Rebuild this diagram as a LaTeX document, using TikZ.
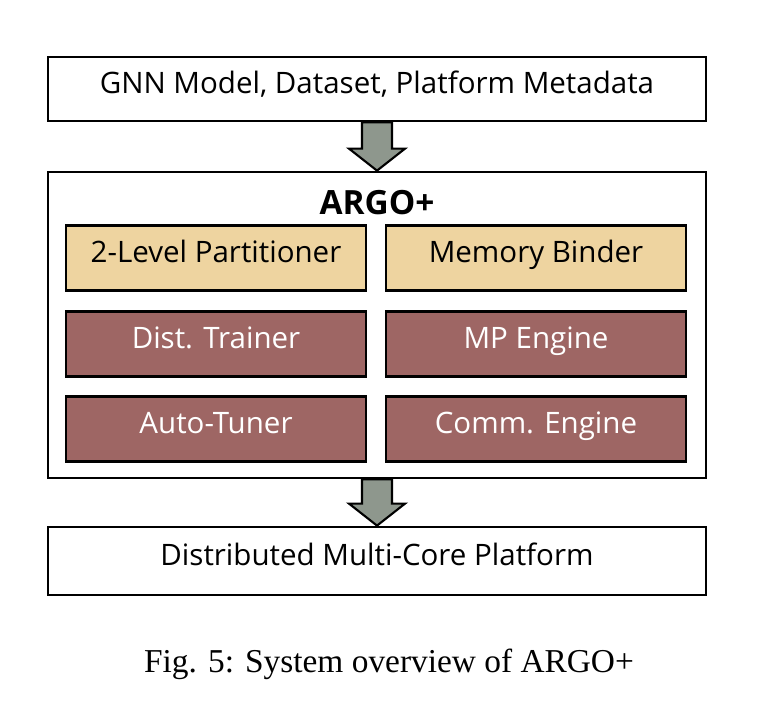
\documentclass[tikz,border=0pt]{standalone}
\usepackage{fontspec}
\setmainfont{Liberation Serif}
\newfontfamily\boxfont{Open Sans}
\usetikzlibrary{calc, positioning}
\definecolor{tanbox}{HTML}{EED4A0}
\definecolor{redbox}{HTML}{9E6664}
\definecolor{arrowgray}{HTML}{8E978D}
\tikzset{
    boxtext/.style = {font=\boxfont\fontsize{16.8}{20}\selectfont, text height=1.8ex, text depth=.8ex},
    outer/.style = {draw, line width=1.6pt, minimum width=13.16cm, fill=white},
    inner/.style = {draw, line width=1.2pt, minimum width=6cm, minimum height=1.3cm, boxtext},
    tan/.style   = {inner, fill=tanbox},
    brick/.style = {inner, fill=redbox, text=white},
    fat/.style   = {draw, line width=1.2pt, fill=arrowgray, line join=miter}
}
\begin{document}
\begin{tikzpicture}[x=0.02cm, y=-0.02cm]
    \useasboundingbox (0,0) rectangle (776,718);
    % Boxes
    \node[outer, minimum height=1.28cm, boxtext] (input) at (377,89) {GNN Model, Dataset, Platform Metadata};
    \node[outer, minimum height=6.12cm] (argo) at (377,325) {};
    \node[font=\boxfont\bfseries\fontsize{19}{22}\selectfont] (title) at (377,203) {ARGO+};
    \node[tan]   (part)   at (216,258) {2-Level Partitioner};
    \node[tan]   (binder) at (536,258) {Memory Binder};
    \node[brick] (dist)   at (216,344) {Dist. Trainer};
    \node[brick] (mp)     at (536,344) {MP Engine};
    \node[brick] (tuner)  at (216,429) {Auto-Tuner};
    \node[brick] (comm)   at (536,429) {Comm. Engine};
    \node[outer, minimum height=1.36cm, boxtext] (platform) at (377,561) {Distributed Multi-Core Platform};
    % Block arrows
    \foreach \a/\b in {input/argo, argo/platform}
    {
        \draw[fat] ($(\a.south)+(-15,0)$) -- ($(\a.south)+(15,0)$)
            -- ($(\b.north)+(15,-22)$) -- ($(\b.north)+(28,-22)$) -- (\b.north)
            -- ($(\b.north)+(-28,-22)$) -- ($(\b.north)+(-15,-22)$) -- cycle;
    }
    % Caption
    \node[font=\fontsize{19}{23}\selectfont] (caption) at (389,664) {Fig. 5: System overview of ARGO+};
\end{tikzpicture}
\end{document}
